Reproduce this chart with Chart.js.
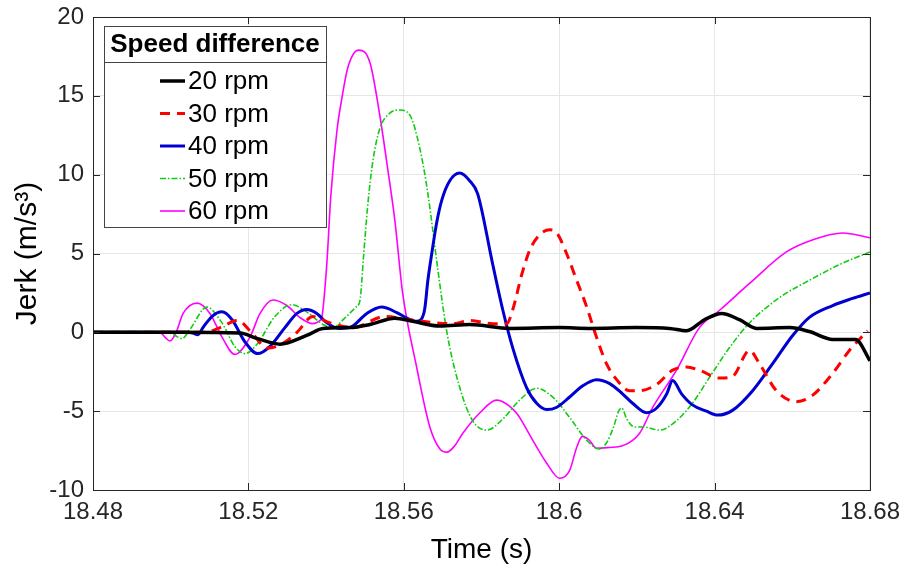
<!DOCTYPE html>
<html>
<head>
<meta charset="utf-8">
<script src="https://cdn.jsdelivr.net/npm/chart.js@4.4.0/dist/chart.umd.min.js"></script>
<style>
  html, body { margin: 0; padding: 0; background: #fff; }
</style>
</head>
<body>
<canvas id="myChart" width="908" height="567"></canvas>
<script>
// tick values
const xTicks = [18.48, 18.52, 18.56, 18.6, 18.64, 18.68];
const yTicks = [-10, -5, 0, 5, 10, 15, 20];

// 20 rpm
const t20 = [18.4800, 18.5024, 18.5178, 18.5224, 18.5281, 18.5350, 18.5392, 18.5461, 18.5513, 18.5577,
  18.5623, 18.5693, 18.5770, 18.5873, 18.6001, 18.6078, 18.6199, 18.6284, 18.6328, 18.6374,
  18.6418, 18.6464, 18.6508, 18.6593, 18.6644, 18.6704, 18.6763, 18.6800];
const j20 = [0, 0, -0.05, -0.4, -0.75, -0.2, 0.25, 0.3, 0.5, 0.9,
  0.7, 0.4, 0.5, 0.25, 0.3, 0.25, 0.3, 0.25, 0.1, 0.8,
  1.2, 0.8, 0.25, 0.3, 0.05, -0.45, -0.45, -1.8];

// 30 rpm
const t30 = [18.4800, 18.5088, 18.5127, 18.5173, 18.5204, 18.5250, 18.5289, 18.5325, 18.5366, 18.5410,
  18.5469, 18.5551, 18.5615, 18.5726, 18.5770, 18.5829, 18.5865, 18.5880, 18.5904, 18.5924,
  18.5950, 18.5976, 18.5994, 18.6019, 18.6045, 18.6071, 18.6096, 18.6122, 18.6148, 18.6181,
  18.6207, 18.6251, 18.6292, 18.6328, 18.6361, 18.6413, 18.6446, 18.6490, 18.6516, 18.6559,
  18.6611, 18.6652, 18.6704, 18.6747, 18.6794];
const j30 = [0, 0, 0.3, 0.75, 0.1, -1.0, -0.7, 0.0, 1.0, 0.6,
  0.3, 1.0, 0.8, 0.55, 0.75, 0.55, 0.55, 1.4, 3.7, 5.2,
  6.2, 6.5, 6.3, 5.0, 3.3, 1.6, -0.3, -2.0, -3.0, -3.7,
  -3.7, -3.3, -2.4, -2.2, -2.4, -2.9, -2.8, -1.15, -2.0, -3.7,
  -4.4, -4.0, -2.6, -1.15, 0.1];

// 40 rpm
const t40 = [18.4800, 18.5044, 18.5057, 18.5070, 18.5083, 18.5106, 18.5132, 18.5158, 18.5191, 18.5224,
  18.5255, 18.5294, 18.5325, 18.5350, 18.5376, 18.5402, 18.5435, 18.5461, 18.5505, 18.5543,
  18.5582, 18.5608, 18.5633, 18.5644, 18.5654, 18.5662, 18.5672, 18.5685, 18.5698, 18.5718,
  18.5744, 18.5770, 18.5790, 18.5829, 18.5855, 18.5880, 18.5916, 18.5942, 18.5968, 18.5994,
  18.6027, 18.6060, 18.6096, 18.6130, 18.6163, 18.6189, 18.6225, 18.6251, 18.6277, 18.6292,
  18.6315, 18.6343, 18.6379, 18.6408, 18.6446, 18.6498, 18.6549, 18.6601, 18.6644, 18.6704,
  18.6755, 18.6800];
const j40 = [0, 0, -0.05, -0.15, 0.3, 1.0, 1.3, 0.8, -0.6, -1.35,
  -0.9, 0.3, 1.2, 1.45, 1.2, 0.6, 0.25, 0.3, 1.2, 1.6,
  1.25, 0.9, 0.7, 0.8, 1.5, 3.3, 5.0, 7.0, 8.4, 9.6,
  10.1, 9.6, 8.8, 4.3, 1.4, -0.95, -3.5, -4.5, -4.9, -4.75,
  -4.1, -3.4, -3.0, -3.25, -3.9, -4.5, -5.1, -4.8, -3.9, -3.05,
  -3.9, -4.6, -5.0, -5.25, -4.95, -3.7, -2.0, -0.2, 0.95, 1.7,
  2.15, 2.5];

// 50 rpm
const t50 = [18.4800, 18.4990, 18.5011, 18.5029, 18.5050, 18.5093, 18.5132, 18.5165, 18.5191, 18.5224,
  18.5268, 18.5312, 18.5350, 18.5392, 18.5417, 18.5448, 18.5477, 18.5487, 18.5497, 18.5507,
  18.5520, 18.5538, 18.5564, 18.5590, 18.5615, 18.5641, 18.5662, 18.5687, 18.5711, 18.5744,
  18.5777, 18.5814, 18.5855, 18.5898, 18.5942, 18.5983, 18.6027, 18.6071, 18.6104, 18.6122,
  18.6140, 18.6153, 18.6161, 18.6174, 18.6194, 18.6215, 18.6259, 18.6302, 18.6343, 18.6387,
  18.6439, 18.6490, 18.6567, 18.6644, 18.6722, 18.6800];
const j50 = [0, 0, -0.2, -0.4, 0.2, 1.6, 0.6, -0.9, -1.35, -0.7,
  1.0, 1.75, 1.3, 0.5, 0.3, 0.9, 1.6, 2.0, 5.0, 8.0,
  10.8, 12.9, 13.9, 14.1, 13.8, 11.7, 8.8, 4.1, 0.0, -3.5,
  -5.6, -6.2, -5.5, -4.3, -3.55, -4.1, -5.4, -6.85, -7.4, -7.0,
  -6.0, -5.0, -4.8, -5.5, -6.0, -6.0, -6.2, -5.6, -4.5, -2.85,
  -0.95, 0.6, 2.2, 3.3, 4.3, 5.1];

// 60 rpm
const t60 = [18.4800, 18.4972, 18.4985, 18.4998, 18.5014, 18.5032, 18.5068, 18.5101, 18.5132, 18.5165,
  18.5204, 18.5230, 18.5263, 18.5299, 18.5332, 18.5366, 18.5384, 18.5389, 18.5402, 18.5412,
  18.5428, 18.5441, 18.5456, 18.5484, 18.5513, 18.5538, 18.5559, 18.5577, 18.5597, 18.5633,
  18.5667, 18.5693, 18.5711, 18.5731, 18.5752, 18.5796, 18.5839, 18.5855, 18.5891, 18.5932,
  18.5968, 18.6001, 18.6027, 18.6045, 18.6060, 18.6078, 18.6096, 18.6130, 18.6163, 18.6207,
  18.6241, 18.6302, 18.6361, 18.6413, 18.6490, 18.6585, 18.6657, 18.6729, 18.6800];
const j60 = [0, 0, -0.3, -0.55, 0.0, 1.2, 1.85, 1.2, -0.3, -1.4,
  -0.3, 1.2, 2.05, 1.7, 0.95, 0.55, 0.75, 0.95, 4.4, 8.6,
  12.8, 14.9, 16.8, 17.9, 17.1, 13.8, 10.3, 7.1, 2.5, -2.2,
  -6.0, -7.4, -7.6, -7.2, -6.4, -5.1, -4.3, -4.4, -5.15, -6.85,
  -8.3, -9.25, -8.75, -7.3, -6.6, -6.85, -7.35, -7.3, -7.2, -6.4,
  -4.75, -2.4, 0.3, 1.4, 3.1, 5.1, 5.9, 6.3, 6.0];

const pts = (t, j) => t.map((x, i) => ({ x: x, y: j[i] }));
const FONT = "'Liberation Sans', Arial, Helvetica, sans-serif";

// box, inner ticks and legend like matlab
const frame = {
  id: "frame",
  afterDatasetsDraw(chart) {
    const ctx = chart.ctx;
    const a = chart.chartArea;
    const xs = chart.scales.x, ys = chart.scales.y;
    ctx.save();
    ctx.strokeStyle = "#262626";
    ctx.lineWidth = 1;
    ctx.beginPath();
    xTicks.forEach(v => {
      const px = Math.round(xs.getPixelForValue(v)) + 0.5;
      ctx.moveTo(px, a.bottom); ctx.lineTo(px, a.bottom - 7);
      ctx.moveTo(px, a.top); ctx.lineTo(px, a.top + 7);
    });
    yTicks.forEach(v => {
      const py = Math.round(ys.getPixelForValue(v)) + 0.5;
      ctx.moveTo(a.left, py); ctx.lineTo(a.left + 7, py);
      ctx.moveTo(a.right, py); ctx.lineTo(a.right - 7, py);
    });
    ctx.stroke();
    ctx.strokeRect(Math.round(a.left) + 0.5, Math.round(a.top) + 0.5,
      Math.round(a.right - a.left), Math.round(a.bottom - a.top));

    // legend
    const lx = a.left + 11, ly = a.top + 9, lw = 222, lh = 201;
    ctx.fillStyle = "#fff";
    ctx.fillRect(lx, ly, lw, lh);
    ctx.strokeStyle = "#444";
    ctx.strokeRect(Math.round(lx) + 0.5, Math.round(ly) + 0.5, lw, lh);
    ctx.beginPath();
    ctx.moveTo(lx, Math.round(ly + 36) + 0.5);
    ctx.lineTo(lx + lw, Math.round(ly + 36) + 0.5);
    ctx.stroke();
    ctx.fillStyle = "#000";
    ctx.font = "bold 26px " + FONT;
    ctx.textAlign = "center";
    ctx.textBaseline = "middle";
    ctx.fillText("Speed difference", lx + lw / 2, ly + 19);
    ctx.font = "26px " + FONT;
    ctx.textAlign = "left";
    chart.data.datasets.forEach((ds, i) => {
      const yy = ly + 55 + i * 32.5;
      ctx.save();
      ctx.strokeStyle = ds.borderColor;
      ctx.lineWidth = ds.borderWidth;
      ctx.setLineDash(ds.borderDash || []);
      ctx.beginPath();
      ctx.moveTo(lx + 56, yy);
      ctx.lineTo(lx + 81, yy);
      ctx.stroke();
      ctx.restore();
      ctx.fillStyle = "#000";
      ctx.fillText(ds.label, lx + 84, yy + 1);
    });
    ctx.restore();
  }
};

var ctx = document.getElementById("myChart").getContext("2d");
var chart = new Chart(ctx, {
  type: "line",
  data: {
    datasets: [
      { label: "20 rpm", data: pts(t20, j20), borderColor: "#000000", borderWidth: 3.5 },
      { label: "30 rpm", data: pts(t30, j30), borderColor: "#ff0000", borderWidth: 3, borderDash: [10, 7] },
      { label: "40 rpm", data: pts(t40, j40), borderColor: "#0000d0", borderWidth: 3 },
      { label: "50 rpm", data: pts(t50, j50), borderColor: "#11cc11", borderWidth: 1.6, borderDash: [6, 2, 1.5, 2] },
      { label: "60 rpm", data: pts(t60, j60), borderColor: "#ff00ff", borderWidth: 1.6 }
    ]
  },
  options: {
    responsive: false,
    animation: false,
    layout: { padding: { left: 0, top: 17, right: 38, bottom: 0 } },
    elements: {
      point: { radius: 0 },
      line: { cubicInterpolationMode: "monotone", fill: false }
    },
    plugins: { legend: { display: false }, tooltip: { enabled: false } },
    scales: {
      x: {
        type: "linear",
        min: 18.48,
        max: 18.68,
        afterBuildTicks: s => { s.ticks = xTicks.map(v => ({ value: v })); },
        afterFit: s => { s.height = 77; },
        grid: { color: "#e6e6e6", drawTicks: false },
        border: { display: false },
        ticks: {
          autoSkip: false,
          maxRotation: 0,
          padding: 8,
          color: "#262626",
          font: { family: FONT, size: 24 },
          callback: v => Number(v.toFixed(2)).toString()
        },
        title: {
          display: true,
          text: "Time (s)",
          color: "#000",
          font: { family: FONT, size: 28 },
          padding: { top: 0, bottom: 0 }
        }
      },
      y: {
        min: -10,
        max: 20,
        afterBuildTicks: s => { s.ticks = yTicks.map(v => ({ value: v })); },
        afterFit: s => { s.width = 93; },
        grid: { color: "#e6e6e6", drawTicks: false },
        border: { display: false },
        ticks: {
          padding: 9,
          color: "#262626",
          font: { family: FONT, size: 24, lineHeight: 0.6 },
          callback: v => v.toString()
        },
        title: {
          display: true,
          text: "Jerk (m/s³)",
          color: "#000",
          font: { family: FONT, size: 30 },
          padding: { top: 10, bottom: 0 }
        }
      }
    }
  },
  plugins: [frame]
});
</script>
</body>
</html>
